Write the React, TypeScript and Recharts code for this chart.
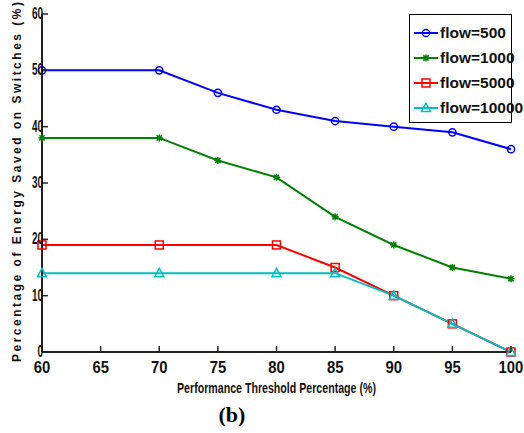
import React from 'react';
import { LineChart, Line, XAxis, YAxis, Legend, Customized } from 'recharts';

const thresholds = [60, 70, 75, 80, 85, 90, 95, 100];
const flow500 = [50, 50, 46, 43, 41, 40, 39, 36];
const flow1000 = [38, 38, 34, 31, 24, 19, 15, 13];
const flow5000 = [19, 19, null, 19, 15, 10, 5, 0];
const flow10000 = [14, 14, null, 14, 14, 10, 5, 0];
const xTicks = [60, 65, 70, 75, 80, 85, 90, 95, 100];
const yTicks = [0, 10, 20, 30, 40, 50, 60];

const seriesKeys = ['f500', 'f1000', 'f5000', 'f10000'];
const seriesNames = ['flow=500', 'flow=1000', 'flow=5000', 'flow=10000'];
const colors = ['#0000ff', '#008000', '#ff0000', '#00bfbf'];
const shapes = ['circle', 'star', 'square', 'triangle'];

const data = thresholds.map((t, i) => ({
  x: t,
  f500: flow500[i],
  f1000: flow1000[i],
  f5000: flow5000[i],
  f10000: flow10000[i],
}));

const FONT = '"Liberation Sans Narrow", "Liberation Sans", Arial, sans-serif';
const WIDE = '"Liberation Sans", Arial, sans-serif';
const AX = '#222';

function Marker({ shape, cx, cy, color }: any) {
  if (shape === 'circle') return <circle cx={cx} cy={cy} r={3.6} fill="none" stroke={color} strokeWidth={1.5} />;
  if (shape === 'star') {
    const s = 3.5, d = 2.6;
    return (
      <path
        d={`M${cx - s},${cy}L${cx + s},${cy}M${cx},${cy - s}L${cx},${cy + s}M${cx - d},${cy - d}L${cx + d},${cy + d}M${cx - d},${cy + d}L${cx + d},${cy - d}`}
        stroke={color}
        strokeWidth={1.5}
        fill="none"
      />
    );
  }
  if (shape === 'square') return <rect x={cx - 4} y={cy - 4} width={8} height={8} fill="none" stroke={color} strokeWidth={1.5} />;
  return (
    <polygon
      points={`${cx},${cy - 4.8} ${cx - 4.5},${cy + 3.5} ${cx + 4.5},${cy + 3.5}`}
      fill="none"
      stroke={color}
      strokeWidth={1.5}
    />
  );
}

const makeDot = (idx: number) => (props: any) => {
  const { cx, cy, index, value } = props;
  if (cx == null || cy == null || value == null || (Array.isArray(value) && value[1] == null)) {
    return <g key={`d-${idx}-${index}`} />;
  }
  return (
    <g key={`d-${idx}-${index}`}>
      <Marker shape={shapes[idx]} cx={cx} cy={cy} color={colors[idx]} />
    </g>
  );
};

const BottomTick = ({ x, y, payload }: any) => (
  <g>
    <line x1={x} y1={y} x2={x} y2={y - 6} stroke={AX} strokeWidth={1.5} />
    <text
      transform={`translate(${x},${y + 21}) scale(0.9,1)`}
      textAnchor="middle"
      fontFamily={FONT}
      fontWeight="bold"
      fontSize={16.5}
      fill="#111"
    >
      {payload.value}
    </text>
  </g>
);

const TopTick = ({ x, y }: any) => (
  <line x1={x} y1={y} x2={x} y2={y + 6} stroke={AX} strokeWidth={1.5} />
);

const LeftTick = ({ x, y, payload }: any) => (
  <g>
    <line x1={x} y1={y} x2={x + 6} y2={y} stroke={AX} strokeWidth={1.5} />
    <text
      transform={`translate(${x + 1},${y + 5}) scale(0.62,1)`}
      textAnchor="end"
      fontFamily={FONT}
      fontWeight="bold"
      fontSize={16}
      fill="#111"
    >
      {payload.value}
    </text>
  </g>
);

const RightTick = ({ x, y }: any) => (
  <line x1={x} y1={y} x2={x - 6} y2={y} stroke={AX} strokeWidth={1.5} />
);

const LegendBox = () => (
  <div
    style={{
      position: 'relative',
      boxSizing: 'border-box',
      width: 103,
      height: 109,
      border: '1.5px solid #000',
      background: '#fff',
    }}
  >
    {seriesNames.map((name, i) => (
      <div
        key={name}
        style={{
          position: 'absolute',
          left: 0,
          top: 7 + i * 25,
          height: 22,
          display: 'flex',
          alignItems: 'center',
        }}
      >
        <svg width={26} height={22} style={{ marginLeft: 3, display: 'block' }}>
          <line x1={1} y1={11} x2={25} y2={11} stroke={colors[i]} strokeWidth={2} />
          <Marker shape={shapes[i]} cx={13} cy={11} color={colors[i]} />
        </svg>
        <span
          style={{
            fontFamily: FONT,
            fontWeight: 'bold',
            fontSize: 15.5,
            color: '#111',
            marginLeft: 1,
            whiteSpace: 'nowrap',
          }}
        >
          {name}
        </span>
      </div>
    ))}
  </div>
);

const XLabel = (props: any) => {
  const vb = props.viewBox || { x: 42, y: 352, width: 469 };
  return (
    <text
      x={vb.x + vb.width / 2}
      y={vb.y + 41}
      textAnchor="middle"
      fontFamily={FONT}
      fontWeight="bold"
      fontSize={15}
      textLength={199}
      lengthAdjust="spacingAndGlyphs"
      fill="#111"
    >
      Performance Threshold Percentage (%)
    </text>
  );
};

const YLabel = () => (
  <text
    transform="translate(17,182) rotate(-90)"
    x={0}
    y={0}
    textAnchor="middle"
    dominantBaseline="central"
    fontFamily={WIDE}
    fontWeight="bold"
    fontSize={12}
    textLength={360}
    lengthAdjust="spacing"
    fill="#111"
  >
    Percentage of Energy Saved on Switches (%)
  </text>
);

const Caption = () => (
  <text
    x={232}
    y={422}
    textAnchor="middle"
    fontFamily='"Liberation Serif", "Times New Roman", serif'
    fontWeight="bold"
    fontSize={22}
    fill="#000"
  >
    (b)
  </text>
);

export default function App() {
  return (
    <div style={{ position: 'absolute', left: 0, top: 0, width: 524, height: 433, background: '#fff' }}>
      <LineChart
        width={524}
        height={433}
        data={data}
        margin={{ top: 14, right: 13, left: 0, bottom: 0 }}
      >
        <XAxis
          dataKey="x"
          type="number"
          domain={[60, 100]}
          ticks={xTicks}
          interval={0}
          height={81}
          tickSize={0}
          tickMargin={0}
          tickLine={false}
          axisLine={{ stroke: AX, strokeWidth: 2 }}
          tick={<BottomTick />}
          label={{ content: <XLabel /> } as any}
        />
        <XAxis
          xAxisId="top"
          orientation="top"
          dataKey="x"
          type="number"
          domain={[60, 100]}
          ticks={xTicks}
          interval={0}
          height={0}
          tickSize={0}
          tickMargin={0}
          tickLine={false}
          axisLine={{ stroke: AX, strokeWidth: 2 }}
          tick={<TopTick />}
        />
        <YAxis
          type="number"
          domain={[0, 60]}
          ticks={yTicks}
          interval={0}
          width={42}
          tickSize={0}
          tickMargin={0}
          tickLine={false}
          axisLine={{ stroke: AX, strokeWidth: 2 }}
          tick={<LeftTick />}
        />
        <YAxis
          yAxisId="right"
          orientation="right"
          type="number"
          domain={[0, 60]}
          ticks={yTicks}
          interval={0}
          width={0}
          tickSize={0}
          tickMargin={0}
          tickLine={false}
          axisLine={{ stroke: AX, strokeWidth: 2 }}
          tick={<RightTick />}
        />
        {seriesKeys.map((k, i) => (
          <Line
            key={k}
            dataKey={k}
            name={seriesNames[i]}
            stroke={colors[i]}
            strokeWidth={2}
            dot={makeDot(i)}
            activeDot={false}
            connectNulls
            isAnimationActive={false}
          />
        ))}
        <Legend
          layout="horizontal"
          verticalAlign="middle"
          align="center"
          wrapperStyle={{ position: 'absolute', left: 409, top: 14, width: 103, height: 109, margin: 0, padding: 0 }}
          content={() => <LegendBox />}
        />
        <Customized component={() => <YLabel />} />
        <Customized component={() => <Caption />} />
      </LineChart>
    </div>
  );
}
